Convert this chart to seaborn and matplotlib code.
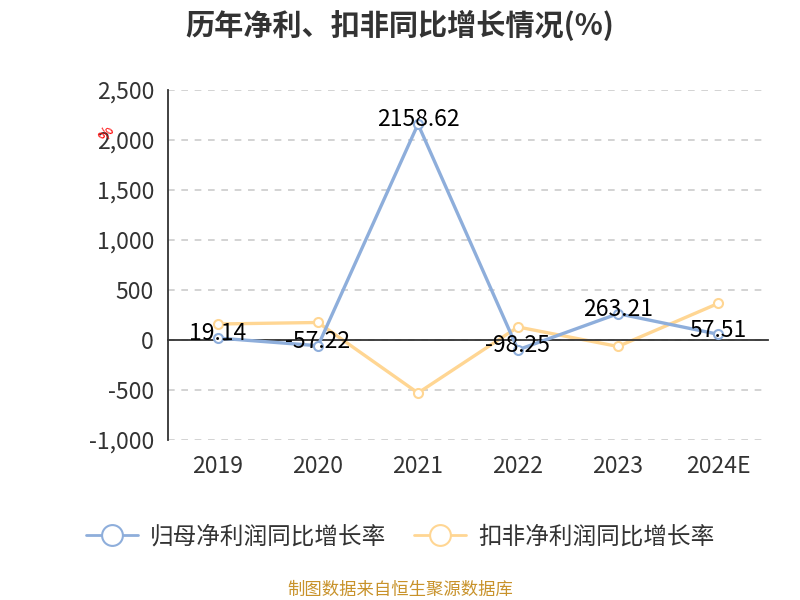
"""
plot.py
=======
Net profit / deducted net profit YoY growth line chart (%).
"""

import matplotlib
matplotlib.use("Agg")  # non-interactive backend
import matplotlib.pyplot as plt
from matplotlib.lines import Line2D
from matplotlib.ticker import FuncFormatter
import pandas as pd
import seaborn as sns

# ------------------------------------------------------------------------
#  Data
# ------------------------------------------------------------------------

years = ["2019", "2020", "2021", "2022", "2023", "2024E"]
net_profit_growth = [19.14, -57.22, 2158.62, -98.25, 263.21, 57.51]
deducted_growth = [160, 175, -530, 130, -65, 365]
series_names = ["归母净利润同比增长率", "扣非净利润同比增长率"]
y_ticks = [-1000, -500, 0, 500, 1000, 1500, 2000, 2500]

BLUE = "#8EAEDB"
ORANGE = "#FFD693"
TEXT = "#333333"
CJK = ["Noto Sans CJK SC", "DejaVu Sans"]

# ------------------------------------------------------------------------
#  Plot
# ------------------------------------------------------------------------

sns.set_theme(style="white")
plt.rcParams["font.family"] = CJK

df = pd.DataFrame({
    "pos": list(range(len(years))) * 2,
    "value": net_profit_growth + deducted_growth,
    "series": [series_names[0]] * len(years) + [series_names[1]] * len(years),
})

fig = plt.figure(figsize=(8, 6), dpi=100)
ax = fig.add_axes([0.21, 0.2667, 0.75, 0.5833])

for name, color, z in zip(series_names, [BLUE, ORANGE], [3, 2]):
    sub = df[df["series"] == name]
    sns.lineplot(data=sub, x="pos", y="value", ax=ax, color=color, linewidth=2.4,
                 marker="o", markersize=6.5, markerfacecolor="white",
                 markeredgecolor=color, markeredgewidth=1.5, zorder=z, legend=False)

# data labels for the blue series
for i, v in enumerate(net_profit_growth):
    ax.annotate(f"{v:.2f}", (i, v), xytext=(0, 3), textcoords="offset points",
                ha="center", va="center", fontsize=16.5, color="black", zorder=5)

ax.set_xlim(-0.5, len(years) - 0.5)
ax.set_ylim(y_ticks[0], y_ticks[-1])
ax.set_yticks(y_ticks)
ax.yaxis.set_major_formatter(FuncFormatter(lambda v, _: f"{v:,.0f}"))
ax.grid(axis="y", color="#cccccc", linestyle=(0, (4, 4)), linewidth=1.2)
ax.grid(axis="x", visible=False)
ax.set_axisbelow(True)

for s in ["top", "right"]:
    ax.spines[s].set_visible(False)
ax.spines["left"].set_color(TEXT)
ax.spines["left"].set_linewidth(1.3)
ax.spines["bottom"].set_position(("data", 0))
ax.spines["bottom"].set_color(TEXT)
ax.spines["bottom"].set_linewidth(1.3)

# category labels sit below the plot, boundary ticks on the zero line
ax.set_xticks(range(len(years)))
ax.set_xticklabels(years)
ax.set_xticks([i - 0.5 for i in range(len(years) + 1)], minor=True)
ax.tick_params(axis="x", which="major", length=0, pad=83, labelsize=16.5, labelcolor=TEXT)
ax.tick_params(axis="x", which="minor", length=6, width=1.3, color=TEXT, direction="out")
ax.tick_params(axis="y", length=6, width=1.3, color=TEXT, labelsize=16.5,
               labelcolor=TEXT, pad=4)
ax.set_xlabel("")
ax.set_ylabel("")

fig.text(0.5, 0.958, "历年净利、扣非同比增长情况(%)", ha="center", va="center",
         fontsize=21, fontweight="bold", color=TEXT)
fig.text(0.134, 0.778, "%", ha="center", va="center", fontsize=11,
         color="red", rotation=60)

handles = [
    Line2D([0], [0], color=c, linewidth=2, marker="o", markersize=15,
           markerfacecolor="white", markeredgecolor=c, markeredgewidth=1.5)
    for c in [BLUE, ORANGE]
]
fig.legend(handles, series_names, loc="center", bbox_to_anchor=(0.5, 0.105), ncol=2,
           frameon=False, fontsize=17, handlelength=2.2, handletextpad=0.5,
           columnspacing=1.2, labelcolor=TEXT)

fig.text(0.5, 0.017, "制图数据来自恒生聚源数据库", ha="center", va="center",
         fontsize=12.5, color="#C8922A")

fig.savefig("out.png", dpi=100)
plt.close(fig)
